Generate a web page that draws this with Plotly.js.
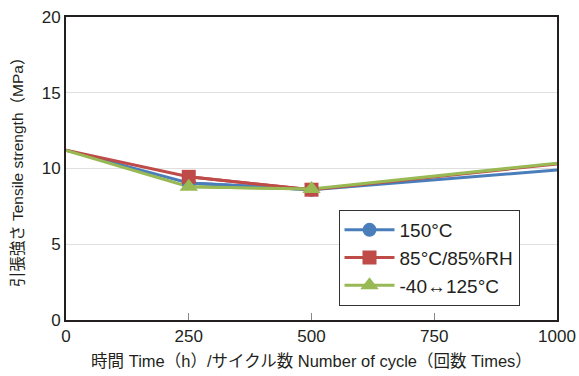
<!DOCTYPE html>
<html><head><meta charset="utf-8">
<script src="https://cdn.plot.ly/plotly-3.0.1.min.js"></script>
<style>html,body{margin:0;padding:0;background:#fff}#c{width:579px;height:376px}</style>
</head><body><div id="c"></div>
<script>
const xVals = [0, 250, 500, 1000];
const names = ["150°C", "85°C/85%RH", "-40↔125°C"];
const s150 = [11.2, 9.05, 8.6, 9.9];
const s85 = [11.2, 9.45, 8.6, 10.3];
const sCycle = [11.2, 8.8, 8.65, 10.35];
const xTicks = [0, 250, 500, 750, 1000];
const yTicks = [0, 5, 10, 15, 20];

const colors = ["#4a7ebb", "#be4b48", "#98b954"];
const symbols = ["circle", "square", "triangle-up"];
const series = [s150, s85, sCycle];

const traces = [];
series.forEach((s, i) => {
  traces.push({
    x: xVals, y: s, name: names[i], type: "scatter", mode: "lines",
    line: {color: colors[i], width: 3}, showlegend: false, legendgroup: "g" + i
  });
});
series.forEach((s, i) => {
  traces.push({
    x: xVals.slice(1, 3), y: s.slice(1, 3), name: names[i], type: "scatter", mode: "lines+markers",
    line: {color: colors[i], width: 3}, legendgroup: "g" + i,
    marker: {color: colors[i], symbol: symbols[i], size: i === 2 ? 16 : 14, opacity: 1,
      line: {width: 0}}
  });
});

const font = "'Liberation Sans', Arial, 'Noto Sans CJK JP', sans-serif";
const layout = {
  width: 579, height: 376,
  margin: {l: 66, r: 22, t: 17, b: 56},
  paper_bgcolor: "#fff", plot_bgcolor: "#fff",
  font: {family: font, color: "#231f20", size: 17},
  showlegend: true,
  legend: {x: 0.555, y: 0.363, xanchor: "left", yanchor: "top",
    bordercolor: "#333", borderwidth: 1, bgcolor: "#fff",
    font: {size: 19, family: font}, itemwidth: 50, tracegroupgap: 0},
  xaxis: {range: [0, 1000], tickvals: xTicks, ticktext: xTicks.map(String),
    showgrid: false, zeroline: false, showline: true, linecolor: "#231f20", linewidth: 2,
    mirror: true, ticks: "inside", ticklen: 7, tickcolor: "#888", tickwidth: 1,
    tickfont: {size: 17},
    title: {text: "時間 Time（h）/サイクル数 Number of cycle（回数 Times）", font: {size: 16.5}, standoff: 10}},
  yaxis: {range: [0, 20], tickvals: yTicks, ticktext: yTicks.map(String),
    showgrid: true, gridcolor: "#e0e0e0", gridwidth: 1, zeroline: false,
    showline: true, linecolor: "#231f20", linewidth: 2, mirror: true, ticks: "",
    tickfont: {size: 17},
    title: {text: "引張強さ Tensile strength（MPa）", font: {size: 15.5}, standoff: 14}}
};
Plotly.newPlot("c", traces, layout, {staticPlot: true, displayModeBar: false});
</script></body></html>
